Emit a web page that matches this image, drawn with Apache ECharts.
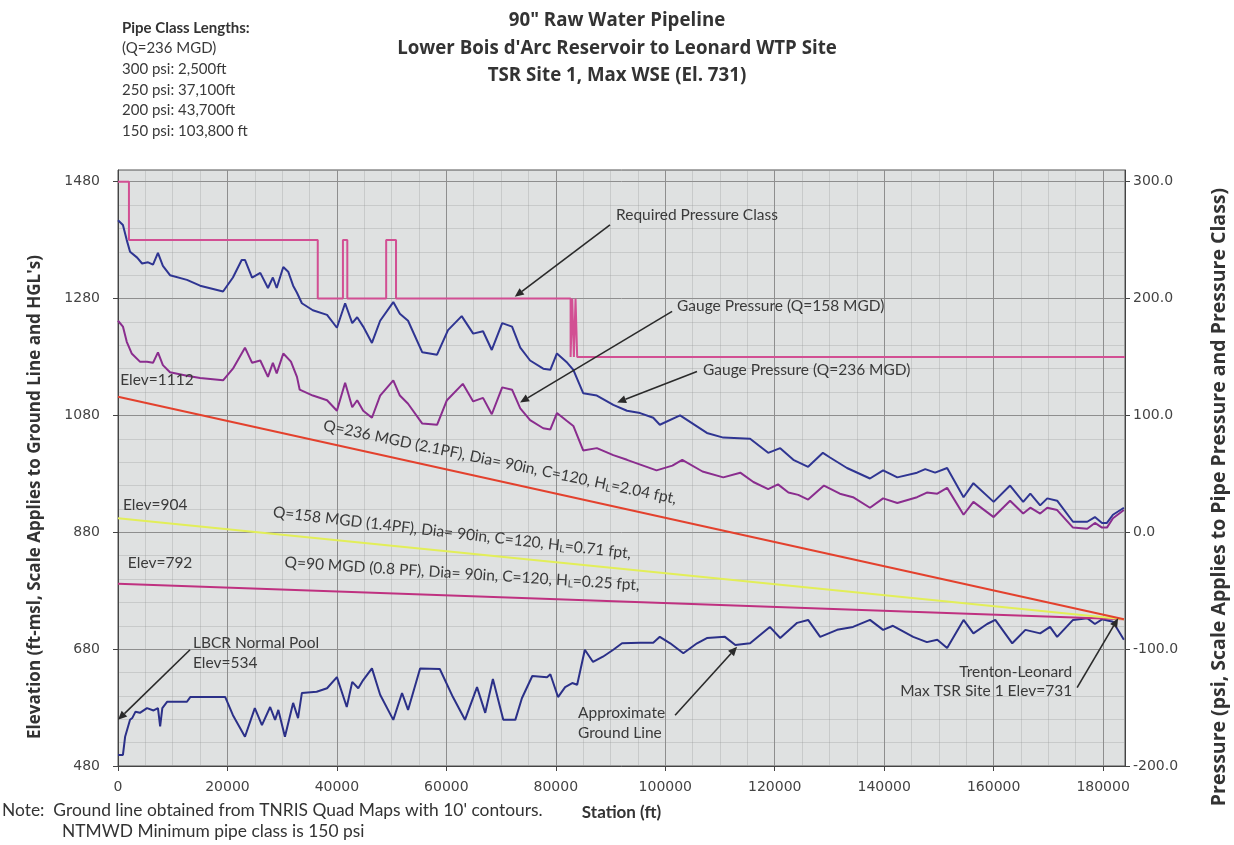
<!DOCTYPE html>
<html>
<head>
<meta charset="utf-8">
<script src="https://cdn.jsdelivr.net/npm/echarts@6/dist/echarts.min.js"></script>
<style>
  html, body { margin: 0; padding: 0; background: #fff; }
  #chart { width: 1234px; height: 845px; }
</style>
</head>
<body>
<div id="chart"></div>
<script>
// ---- Approximate ground line (station ft, elevation ft-msl)
const groundStation = [0, 900, 1300, 2200, 2600, 3200, 4000, 5300, 6500, 7300, 7700, 8100, 9000, 12600, 13200, 19600,
  21000, 23200, 25000, 26300, 27800, 28700, 29300, 30500, 32000, 32900, 33600, 36300, 38200, 40000, 41800, 42800,
  43900, 44800, 46400, 47900, 50300, 51900, 53000, 55200, 58800, 61200, 63400, 65600, 67100, 68500, 70400, 72600,
  73800, 75700, 78400, 79000, 80400, 81700, 83000, 83900, 85300, 86800, 88600, 90500, 92100, 95400, 97800, 99000,
  100900, 103300, 105800, 107600, 110900, 112800, 115500, 119100, 121000, 124100, 126100, 128300, 131400, 134300,
  137400, 139800, 141600, 145300, 147800, 149700, 151500, 154500, 156300, 158800, 160300, 163400, 165800, 168500,
  170300, 171600, 174500, 177100, 178500, 179800, 181800, 183800];
const groundElev = [499, 499, 530, 559, 562, 573, 571, 579, 575, 579, 548, 579, 590, 590, 598, 598,
  567, 530, 579, 550, 581, 559, 576, 530, 588, 562, 605, 607, 613, 632, 581, 624,
  613, 627, 647, 602, 559, 605, 576, 647, 646, 598, 559, 615, 571, 629, 559, 559,
  596, 634, 632, 637, 598, 615, 622, 619, 679, 658, 667, 679, 690, 691, 691, 701,
  690, 673, 690, 699, 701, 687, 690, 718, 699, 725, 730, 701, 713, 718,
  730, 713, 720, 701, 692, 696, 682, 730, 707, 723, 730, 690, 713, 707,
  718, 701, 730, 733, 723, 731, 727, 696];

// ---- Hydraulic grade lines (station ft, elevation ft-msl)
const hgl236Station = [0, 183800];
const hgl236Elev = [1112, 731];
const hgl158Station = [0, 183800];
const hgl158Elev = [904, 731];
const hgl90Station = [0, 183800];
const hgl90Elev = [792, 731];

// ---- Gauge pressure, Q=236 MGD (station ft, psi)
const gp236Station = [0, 900, 1600, 2200, 3500, 4400, 5500, 6400, 7300, 8200, 9500, 12600, 15000, 19200, 21000,
  22600, 23200, 24500, 26000, 27400, 28300, 29000, 30200, 31100, 32000, 32700, 33600, 35600, 38200, 40000, 41500,
  42800, 43700, 44800, 46400, 47900, 50300, 51500, 53000, 55600, 58300, 60300, 62800, 64900, 66700, 68300, 70200,
  72000, 73500, 75300, 77700, 79000, 80200, 82100, 83200, 85000, 87500, 90500, 93000, 95400, 97800, 99000, 102700,
  107600, 110600, 115500, 118800, 121000, 123400, 126100, 128800, 130100, 133200, 137400, 139800, 142400, 146000,
  147500, 149300, 151500, 154500, 156300, 160000, 163000, 165400, 166700, 168500, 169800, 171600, 174500, 177100,
  178500, 179800, 180700, 181800, 183800];
const gp236Psi = [267, 263, 250, 240, 235, 230, 231, 229, 239, 228, 220, 216, 211, 206, 218,
  233, 233, 218, 222, 209, 218, 209, 227, 223, 211, 205, 196, 190, 186, 175, 196,
  179, 184, 176, 162, 181, 197, 187, 181, 154, 152, 173, 185, 170, 172, 156, 179,
  176, 158, 147, 140, 139, 153, 145, 139, 119, 117, 109, 104, 102, 98, 92, 100,
  85, 81, 80, 68, 72, 62, 56, 68, 64, 55, 46, 53, 47, 51,
  54, 51, 55, 30, 42, 26, 40, 26, 33, 23, 29, 27, 9, 9,
  13, 8, 8, 15, 21];

// ---- Gauge pressure, Q=158 MGD (station ft, psi)
const gp158Station = [0, 900, 1600, 2500, 4000, 5300, 6400, 7300, 8200, 9500, 12600, 15000, 19200, 21000, 23200,
  24500, 26000, 27400, 28300, 29000, 30200, 31600, 32700, 33200, 35600, 38200, 40000, 41500, 42800, 43700, 44800,
  46400, 47900, 50300, 51500, 53000, 55600, 58300, 60100, 63000, 64900, 66700, 68300, 70200, 72000, 73500, 75300,
  77700, 79000, 80200, 82100, 83200, 85000, 87500, 90500, 93000, 98400, 101300, 103100, 106800, 110600, 113700,
  116100, 118800, 120600, 122500, 124300, 126100, 129000, 131900, 134300, 137400, 139800, 142400, 146000, 147800,
  149700, 151500, 154500, 156300, 160000, 163000, 165400, 166700, 168500, 169800, 171600, 174500, 177100, 178500,
  179800, 180700, 181800, 183800];
const gp158Psi = [181, 176, 163, 153, 146, 146, 145, 154, 143, 137, 134, 132, 130, 140, 158,
  145, 147, 133, 145, 136, 153, 146, 133, 122, 117, 113, 104, 128, 107, 113, 104,
  98, 117, 130, 117, 110, 93, 92, 113, 127, 112, 115, 101, 124, 122, 106, 96,
  89, 88, 102, 95, 91, 70, 72, 66, 62, 53, 57, 62, 52, 47, 51,
  43, 37, 41, 34, 32, 28, 40, 33, 30, 21, 29, 25, 30, 34,
  33, 38, 15, 26, 13, 27, 16, 21, 16, 21, 19, 4, 3, 8,
  4, 4, 12, 19];

// ---- Required pressure class (station ft, psi)
const classStation = [0, 2000, 2000, 36500, 36500, 41100, 41100, 41900, 41900, 49000, 49000, 50800, 50800,
  82700, 82700, 83000, 83000, 83300, 83300, 83600, 83600, 83900, 83900, 184000];
const classPsi = [300, 300, 250, 250, 200, 200, 250, 250, 200, 200, 250, 250, 200,
  200, 150, 150, 200, 200, 150, 150, 200, 200, 150, 150];

// ---- Axis ticks
const stationTicks = [0, 20000, 40000, 60000, 80000, 100000, 120000, 140000, 160000, 180000];
const elevTicks = [480, 680, 880, 1080, 1280, 1480];
const psiTicks = [-200, -100, 0, 100, 200, 300];

const zip = (xs, ys) => xs.map((x, i) => [x, ys[i]]);

const FONT = 'Lato';
const TXT = '#3a3a3a';

const chart = echarts.init(document.getElementById('chart'), null, { renderer: 'canvas' });

const lineSeries = (name, data, color, yAxisIndex, width) => ({
  name, type: 'line', data, yAxisIndex, symbol: 'none', animation: false,
  lineStyle: { color, width: width || 2 }, itemStyle: { color }
});

const tickFont = { fontFamily: 'DejaVu Sans', fontSize: 14, color: '#444' };

chart.setOption({
  animation: false,
  backgroundColor: '#ffffff',
  title: {
    text: '90" Raw Water Pipeline\nLower Bois d\'Arc Reservoir to Leonard WTP Site\nTSR Site 1, Max WSE (El. 731)',
    left: 'center', top: 2,
    textStyle: { fontFamily: 'Open Sans', fontWeight: 'bold', fontSize: 18.7, lineHeight: 27.5, color: '#333' }
  },
  grid: {
    left: 118, right: 109, top: 170, bottom: 79, show: true,
    backgroundColor: '#dfe1e1', borderColor: '#555', borderWidth: 1
  },
  xAxis: {
    type: 'value', min: 0, max: 184000, interval: 20000,
    name: 'Station (ft)', nameLocation: 'middle', nameGap: 38,
    nameTextStyle: { fontFamily: FONT, fontWeight: 'bold', fontSize: 17, color: '#333' },
    axisLine: { show: true, onZero: false, lineStyle: { color: '#444' } },
    axisTick: { show: true, length: 5, customValues: stationTicks, lineStyle: { color: '#444' } },
    axisLabel: Object.assign({ customValues: stationTicks, margin: 14, formatter: v => String(v) }, tickFont),
    splitLine: { show: true, lineStyle: { color: '#8e8e8e', width: 1 } },
    minorTick: { show: false, splitNumber: 4 },
    minorSplitLine: { show: true, lineStyle: { color: 'rgba(150,150,150,0.3)', width: 1 } }
  },
  yAxis: [
    {
      type: 'value', position: 'left', min: 480, max: 1500,
      axisLine: { show: true, lineStyle: { color: '#444' } },
      axisTick: { show: true, length: 5, customValues: elevTicks, lineStyle: { color: '#444' } },
      axisLabel: Object.assign({ customValues: elevTicks, margin: 18, formatter: v => String(v) }, tickFont),
      splitLine: { show: false }
    },
    {
      type: 'value', position: 'right', min: -200, max: 310, interval: 100,
      axisLine: { show: true, lineStyle: { color: '#444' } },
      axisTick: { show: true, length: 5, customValues: psiTicks, lineStyle: { color: '#444' } },
      axisLabel: Object.assign({ customValues: psiTicks, margin: 8, formatter: v => v.toFixed(1) }, tickFont),
      splitLine: { show: true, lineStyle: { color: '#8e8e8e', width: 1 } },
      minorTick: { show: false, splitNumber: 5 },
      minorSplitLine: { show: true, lineStyle: { color: 'rgba(150,150,150,0.3)', width: 1 } }
    }
  ],
  series: [
    lineSeries('Approximate Ground Line', zip(groundStation, groundElev), '#2b3088', 0, 2),
    lineSeries('HGL Q=90 MGD', zip(hgl90Station, hgl90Elev), '#bf3180', 0, 2),
    lineSeries('HGL Q=158 MGD', zip(hgl158Station, hgl158Elev), '#e2ee58', 0, 2),
    lineSeries('HGL Q=236 MGD', zip(hgl236Station, hgl236Elev), '#e3412d', 0, 2),
    lineSeries('Gauge Pressure (Q=158 MGD)', zip(gp158Station, gp158Psi), '#8a2d8e', 1, 2),
    lineSeries('Gauge Pressure (Q=236 MGD)', zip(gp236Station, gp236Psi), '#2f3592', 1, 2),
    lineSeries('Required Pressure Class', zip(classStation, classPsi), '#d24f93', 1, 2)
  ]
});

// ---- Annotations placed in station / elevation coordinates
const notes = [
  { text: 'Required Pressure Class', at: [91000, 1423], align: 'left' },
  { text: 'Gauge Pressure (Q=158 MGD)', at: [102150, 1268], align: 'left' },
  { text: 'Gauge Pressure (Q=236 MGD)', at: [106900, 1158], align: 'left' },
  { text: 'Elev=1112', at: [400, 1141], align: 'left' },
  { text: 'Elev=904', at: [900, 927], align: 'left' },
  { text: 'Elev=792', at: [1800, 828], align: 'left' },
  { text: 'LBCR Normal Pool', at: [13700, 691], align: 'left' },
  { text: 'Elev=534', at: [13700, 656], align: 'left' },
  { text: 'Approximate', at: [84060, 571], align: 'left' },
  { text: 'Ground Line', at: [84060, 536], align: 'left' },
  { text: 'Trenton-Leonard', at: [174340, 641], align: 'right' },
  { text: 'Max TSR Site 1 Elev=731', at: [174340, 608], align: 'right' }
];
const arrows = [
  { from: [89900, 1406], to: [72500, 1283] },
  { from: [101250, 1258], to: [73460, 1102] },
  { from: [105800, 1155], to: [91200, 1102] },
  { from: [13160, 679], to: [0, 559] },
  { from: [101790, 567], to: [113120, 684] },
  { from: [175250, 614], to: [182750, 733] }
];
const hglLabels = [
  { text: 'Q=236 MGD (2.1PF), Dia= 90in, C=120, H{sub|L}=2.04 fpt,', at: [69800, 1000], angle: 11.8 },
  { text: 'Q=158 MGD (1.4PF), Dia= 90in, C=120, H{sub|L}=0.71 fpt,', at: [61040, 879], angle: 6.6 },
  { text: 'Q=90 MGD (0.8 PF), Dia= 90in, C=120, H{sub|L}=0.25 fpt,', at: [62870, 809], angle: 3.7 }
];

const px = p => chart.convertToPixel({ xAxisIndex: 0, yAxisIndex: 0 }, p);
const graphics = [];
const NOTE_FONT = `15.5px ${FONT}`;

notes.forEach(n => {
  const p = px(n.at);
  graphics.push({
    type: 'text', x: p[0], y: p[1], z: 100,
    style: { text: n.text, fill: TXT, font: NOTE_FONT, align: n.align, verticalAlign: 'middle' }
  });
});

arrows.forEach(a => {
  const p1 = px(a.from), p2 = px(a.to);
  const ang = Math.atan2(p2[1] - p1[1], p2[0] - p1[0]);
  const L = 9, W = 4;
  const bx = p2[0] - L * Math.cos(ang), by = p2[1] - L * Math.sin(ang);
  graphics.push({
    type: 'line', z: 100,
    shape: { x1: p1[0], y1: p1[1], x2: bx, y2: by },
    style: { stroke: '#2a2a2a', lineWidth: 1.6 }
  });
  graphics.push({
    type: 'polygon', z: 100,
    shape: { points: [[p2[0], p2[1]], [bx - W * Math.sin(ang), by + W * Math.cos(ang)], [bx + W * Math.sin(ang), by - W * Math.cos(ang)]] },
    style: { fill: '#2a2a2a' }
  });
});

hglLabels.forEach(h => {
  const p = px(h.at);
  graphics.push({
    type: 'text', x: p[0], y: p[1], z: 100, rotation: -h.angle * Math.PI / 180,
    style: {
      text: h.text, fill: TXT, font: NOTE_FONT, align: 'center', verticalAlign: 'middle',
      rich: { sub: { fontSize: 10, fontFamily: FONT, fill: TXT, padding: [7, 0, 0, 0] } }
    }
  });
});

// Vertical axis titles
graphics.push({
  type: 'text', x: 35, y: 497, rotation: Math.PI / 2,
  style: {
    text: "Elevation (ft-msl, Scale Applies to Ground Line and HGL's)", fill: '#333',
    font: 'bold 17px "Open Sans"', align: 'center', verticalAlign: 'middle'
  }
});
graphics.push({
  type: 'text', x: 1219, y: 497, rotation: Math.PI / 2,
  style: {
    text: 'Pressure (psi, Scale Applies to Pipe Pressure and Pressure Class)', fill: '#333',
    font: 'bold 19.5px "Open Sans"', align: 'center', verticalAlign: 'middle'
  }
});

// Pipe class summary block
const pipeLines = ['(Q=236 MGD)', '300 psi: 2,500ft', '250 psi: 37,100ft', '200 psi: 43,700ft', '150 psi: 103,800 ft'];
graphics.push({
  type: 'text', left: 122, top: 21,
  style: { text: 'Pipe Class Lengths:', fill: '#333', font: `bold 15px ${FONT}` }
});
pipeLines.forEach((t, i) => graphics.push({
  type: 'text', left: 122, top: 41 + i * 20.6,
  style: { text: t, fill: '#3a3a3a', font: `15px ${FONT}` }
}));

// Footnote
graphics.push({
  type: 'text', left: 2, top: 802,
  style: { text: "Note:  Ground line obtained from TNRIS Quad Maps with 10' contours.", fill: '#333', font: `17.4px ${FONT}` }
});
graphics.push({
  type: 'text', left: 62, top: 823,
  style: { text: 'NTMWD Minimum pipe class is 150 psi', fill: '#333', font: `17.4px ${FONT}` }
});

chart.setOption({ graphic: graphics });
</script>
</body>
</html>
